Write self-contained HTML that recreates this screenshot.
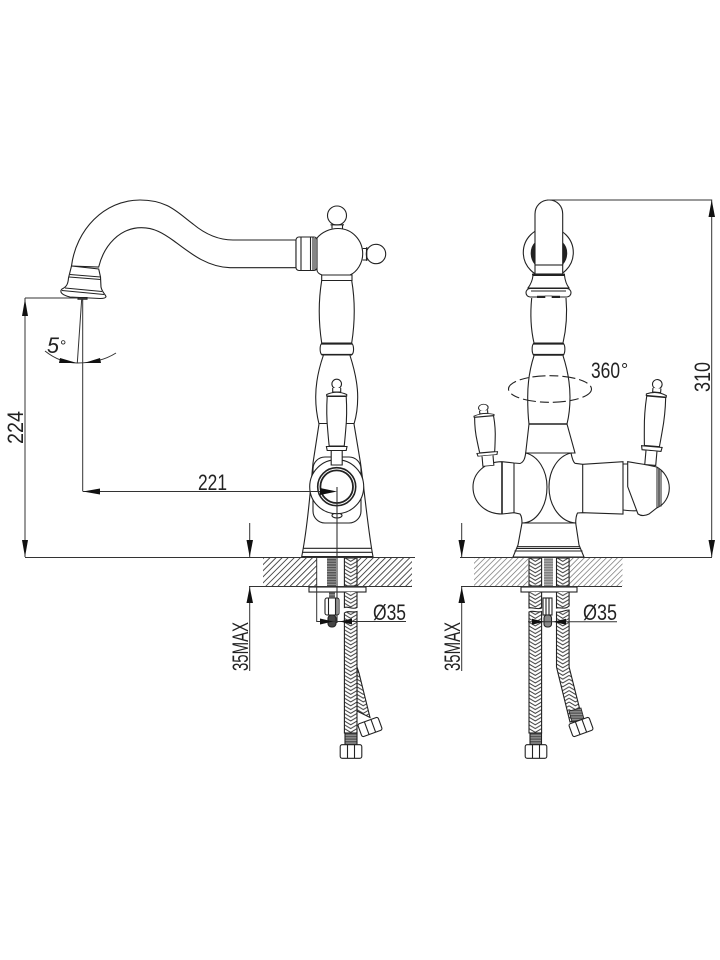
<!DOCTYPE html>
<html><head><meta charset="utf-8"><style>html,body{margin:0;padding:0;background:#fff}svg{display:block}text{font-family:"Liberation Sans",sans-serif;fill:#222}</style></head><body>
<svg width="720" height="960" viewBox="0 0 720 960" xmlns="http://www.w3.org/2000/svg">
<defs>
<pattern id="h" width="4.3" height="4.3" patternUnits="userSpaceOnUse" patternTransform="rotate(45)"><rect width="4.3" height="4.3" fill="#fff"/><line x1="0" y1="0" x2="0" y2="4.3" stroke="#333" stroke-width="1.7"/></pattern>
<pattern id="h2" width="3.9" height="3.9" patternUnits="userSpaceOnUse" patternTransform="rotate(45)"><rect width="3.9" height="3.9" fill="#fff"/><line x1="0" y1="0" x2="0" y2="3.9" stroke="#666" stroke-width="1.3"/></pattern>
<pattern id="b" width="12.6" height="3.8" patternUnits="userSpaceOnUse" patternTransform="translate(344.4 0)"><rect width="12.6" height="3.8" fill="#fff"/><path d="M0-1L6.3 2.800L12.6-1M0 2.800L6.3 6.600L12.6 2.800" fill="none" stroke="#333" stroke-width=".95"/></pattern>
<pattern id="b2" width="12.6" height="3.8" patternUnits="userSpaceOnUse" patternTransform="translate(529 0)"><rect width="12.6" height="3.8" fill="#fff"/><path d="M0-1L6.3 2.800L12.6-1M0 2.800L6.3 6.600L12.6 2.800" fill="none" stroke="#333" stroke-width=".95"/></pattern>
<pattern id="b3" width="12.6" height="3.8" patternUnits="userSpaceOnUse" patternTransform="translate(556.5 0)"><rect width="12.6" height="3.8" fill="#fff"/><path d="M0-1L6.3 2.800L12.6-1M0 2.800L6.3 6.600L12.6 2.800" fill="none" stroke="#333" stroke-width=".95"/></pattern>
<pattern id="r" width="4" height="2.6" patternUnits="userSpaceOnUse"><rect width="4" height="2.6" fill="#555"/><rect y="1.5" width="4" height="1.1" fill="#999"/></pattern>
<g id="hd" fill="#fff" stroke="#222" stroke-width="1.1">
<circle cx="0" cy="0" r="4.8"/>
<path d="M-4 4L-4 8L4 8L4 4"/>
<path d="M-10 10.500Q0 6 10 10.500L10 12L-10 12Z"/>
<path d="M-9.500 12.500C-10.300 25-10 36-9 46C-8.500 52-8 58-7.500 62L7.500 62C8 58 8.500 52 9 46C10 36 10.300 25 9.500 12.500Z"/>
<path d="M-10.300 62.500L10.300 62.500L9.500 66.500L-9.500 66.500Z"/>
<path d="M-5.500 67L-5.500 81L5.500 81L5.500 67"/>
</g>
<g id="nut" fill="#fff" stroke="#222" stroke-width="1.1">
<rect x="-10.800" y="-6.800" width="21.600" height="13.600" rx="2"/>
<path d="M-3.500-6.800V6.800M3.500-6.800V6.800"/>
</g>
</defs>
<rect width="720" height="960" fill="#fff"/>

<!-- counters -->
<rect x="263" y="558" width="149" height="28" fill="url(#h)"/>
<rect x="474" y="558" width="148.500" height="28" fill="url(#h2)"/>
<rect x="316.500" y="558" width="41" height="28" fill="#fff"/>
<rect x="528" y="558" width="41.500" height="28" fill="#fff"/>

<g fill="none" stroke="#222" stroke-width="1.100">
<!-- LEFT VIEW: spout -->
<path fill="#fff" d="M71.500 266C76 230 104 200 140 200C168 200 178 213 193 224C205 234 218 240 233 240L296 240V267.700L230 267.700C207 267 190 253 174 241C163 233 154 227.700 141.500 227.700C120 227.700 104 245 98.700 267Z"/>
<path fill="#fff" d="M71.500 266L98.700 269L100.500 277L101 287C102 292 105 294 106 296.500C106 298 104 298.500 100 298.500L70 297C62 295 59 292 62 289C66 287 68 285 68.500 278Z"/>
<path d="M70 274.500L100.500 277M69 277L100.700 279.500M65 288L102 291.500M62 290.500L104 294.500"/>
<path d="M78 297.500H87V299.200H78Z" fill="#444"/>
<!-- collar -->
<rect x="296" y="237" width="21" height="33.500" rx="3" fill="#fff"/>
<path d="M301 237V270.500M310.500 237V270.500M313 237V270.500M315 238V270"/>
<!-- dome + knobs -->
<path fill="#fff" d="M317 238C322 232 330 228.500 338 228.500C352 228.500 362.700 240 362.700 254C362.700 263 357 272 350 275H322C319 274 317 272 317 270Z"/>
<circle cx="337" cy="215.500" r="9.500" fill="#fff"/>
<path d="M332 224.500V228.500M342.500 224.500V228.500M330.500 224.800H344" />
<circle cx="376" cy="254" r="9.700" fill="#fff"/>
<path d="M362.700 248.500H366.500V260H362.700M366.800 247V261"/>
<!-- column -->
<path fill="#fff" d="M321.700 275H352V280.500H321.700Z"/>
<path fill="#fff" d="M321.700 280.500C318.500 300 318.500 322 321.700 343H351.700C355 322 355 300 351.700 280.500Z"/>
<path fill="#fff" d="M322 343H351.500C354 345 354.500 353 351.500 355H322C319.500 353 319.500 345 322 343Z"/>
<path d="M321.500 344H352M321.500 354.500H352" stroke-width="1.300"/>
<path d="M323.300 355.500C319 368 315.700 382 315.700 397C315.700 407 317 416 319 424L313 463C310 495 307 530 301.700 556.700H373C368 530 365 495 360.500 463L354 424C356.500 416 357.700 407 357.700 397C357.700 382 354 368 350 355.500"/>
<path d="M319 423.500H328M346 423.500H354"/>
<path d="M303.500 548.300H371M302.500 552.300H372M301.500 556.700H373.500" />
<rect x="313" y="457" width="48" height="66" rx="12" fill="#fff"/>
<ellipse cx="337" cy="515.500" rx="5" ry="2.400"/>
<circle cx="336.700" cy="486.700" r="27" fill="#fff"/>
<circle cx="336.700" cy="486.700" r="19" stroke-width="1.600"/>
<circle cx="336.700" cy="486.700" r="16.300" stroke-width="1.800"/>
</g>
<use href="#hd" transform="translate(336.700 384)"/>

<!-- LEFT lower -->
<g fill="none" stroke="#222" stroke-width="1.100">
<rect x="327" y="558" width="9" height="28" fill="url(#r)" stroke="none"/>
<rect x="329" y="592" width="6" height="6" fill="url(#r)" stroke="none"/>
<rect x="344.400" y="558" width="12.600" height="28" fill="url(#b)"/>
<rect x="309" y="587" width="57" height="5" fill="#fff"/>
<path d="M344.400 592V607.500C348 606 353 610 357 607.500V592" fill="url(#b)"/>
<path d="M357 667L359 673L370 717.500L357 711Z" fill="url(#b)"/>
<path d="M344.400 613C348 610 353 613 357 611.500V733H344.400Z" fill="url(#b)"/>
<rect x="345" y="733" width="12" height="12" fill="url(#r)" stroke="#222"/>
<rect x="325" y="598" width="14" height="17" rx="2" fill="#fff"/><path d="M328.500 598V615M335.500 598V615"/>
<rect x="328" y="615" width="8" height="12" rx="3.500" fill="#444"/>
</g>
<use href="#nut" transform="translate(351 751.500)"/>
<use href="#nut" transform="translate(370 727) rotate(-20)"/>

<!-- RIGHT VIEW -->
<g fill="none" stroke="#222" stroke-width="1.100">
<circle cx="548.300" cy="252.500" r="25" fill="#fff"/>
<path d="M535 243C530 248 530 258 535 264L535 243ZM562.700 243C568 248 568 258 562.700 264Z" fill="#222"/>
<path fill="#fff" d="M535 265V214C535 206 541 200 549 200C557 200 562.700 206 562.700 214V265"/>
<rect x="535" y="265" width="27.700" height="9" fill="#fff"/>
<path fill="#fff" d="M533 275.500H564.500C565 280 566 284 569 288L528 288C531 284 532.500 280 533 275.500Z"/>
<path d="M532 274.500H565" stroke-width="1.800"/>
<rect x="526" y="288.500" width="45" height="8.500" rx="4.200" fill="#fff"/>
<path d="M531 291H566"/>
<path d="M537 297H560" stroke="#222" stroke-width="2.500"/><rect x="545" y="296" width="7" height="2.800" fill="#fff" stroke="#222" stroke-width=".6"/>
<path fill="#fff" d="M531.700 298C530 315 531 330 534 343H563C566 330 567.500 315 566 298"/>
<path fill="#fff" d="M534 343H563C565.500 345 565.500 353 563 355.500H534C531.500 353 531.500 345 534 343Z"/>
<path d="M533 344H564M533 354.500H564" stroke-width="1.300"/>
<path fill="#fff" d="M534 355.700C530 368 527.700 382 527.700 397C527.700 407 528 416 529 424L525.700 453L575 453L567 424C569 416 570 407 570 397C570 382 567 368 563 355.700"/>
<path d="M529 424H567" stroke-width="1.500"/>
<ellipse cx="550" cy="389" rx="41.500" ry="13.300" stroke-dasharray="13 4 9 4"/>

<!-- lower body -->
<path fill="#fff" d="M522 523L518 545L513 557H584L579 545L575.700 523Z"/>
<path d="M517 546.700H580M516 548.500H581M514.500 551H582.500" />
<!-- left arm -->
<path fill="#fff" d="M502 461.700C485 461.700 473 473 473 487C473 502 485 514 502 514L514 512.700L520 514C521.500 516 522 519 522 523C536 523 547 507 547 487C547 470 538 456 525.700 453C525 458 524 462 520 463.500L514 463Z"/>
<path d="M502 461.700V514" stroke-width="1.600"/><path d="M514 463V512.700"/>
<!-- right arm -->
<path fill="#fff" d="M575.700 523C561 522 549 507 549 487C549 470 558 456 571 453C572 458 573 462 575 463.300L582.700 464.300L623 461.700V514L582.700 512.700L577.500 513C576 516 575.700 519 575.700 523Z"/>
<path d="M582.700 464.300V512.700"/>
<path d="M623 464H627.700M623 510C632 511 638 511 640 510"/>
<path fill="#fff" d="M627.700 461.700L645 464.500L656.700 467C664 471 669.300 479 669.300 488C669.300 497 664 505 656.700 508L649 514C645 516 641 516 638 514L627.700 486.700Z"/>
<path d="M657 467.500V508M661 469.500V506.500" stroke-width="1"/><path d="M659 468V507" stroke="#444" stroke-width="1.600"/>

<!-- right lower -->
<rect x="544" y="558" width="9" height="28" fill="url(#r)" stroke="none" opacity=".75"/>
<rect x="529" y="558" width="12.600" height="28" fill="url(#b2)"/>
<rect x="556.500" y="558" width="12.600" height="28" fill="url(#b3)"/>
<rect x="521" y="587" width="56" height="5" fill="#fff"/>
<path d="M529 592V608C533 607 538 610 541.600 608V592" fill="url(#b2)"/>
<path d="M556.500 592V608C560 607 565 610 569.100 606V592" fill="url(#b3)"/>
<path d="M529 612C533 610 538 613 541.600 611.500V733H529Z" fill="url(#b2)"/>
<path d="M556.500 612C560 613 565 610 569.100 610V667L582 718L570 722L556.500 667Z" fill="url(#b3)"/>
<rect x="530" y="733" width="11.500" height="12" fill="url(#r)" stroke="#222"/>
<path d="M569 711L581 708L584 719L572 722Z" fill="url(#r)" stroke="#222" stroke-width=".8"/>
<rect x="543" y="598" width="9" height="17" fill="#fff"/><path d="M546 598V615M549 598V615"/>
<rect x="544" y="615" width="7.500" height="12" rx="3" fill="#888"/>
</g>
<use href="#hd" transform="translate(483.300 407.700) rotate(-5) scale(1 .72)"/>
<use href="#hd" transform="translate(657.300 384.300) rotate(5)"/>
<use href="#nut" transform="translate(536 751.500)"/>
<use href="#nut" transform="translate(581 727) rotate(-20)"/>

<!-- DIMENSIONS -->
<g fill="none" stroke="#333" stroke-width="1">
<path d="M25 557.500H415M460 557.500H712"/>
<path d="M249 586.500H412M461 586.500H622"/>
<path d="M25 298V557M25 298H78M82.700 299V491.500M81.700 299L77.300 363"/>
<path d="M45 351C55 359 66 363 77.300 363C92 363 105 360 116 353"/>
<path d="M83 491.500H320"/>
<path d="M337 487V623" stroke-width="1.100"/>
<path d="M249.700 523V557M249.700 587V671"/>
<path d="M461.700 523V557M461.700 587V671"/>
<path d="M316.700 558V621.500H406M528 621.700H617"/>
<path d="M547 200H711.700V557"/>
</g>
<g fill="#111" stroke="none">
<path d="M25 299L22 316H28Z"/><path d="M25 557L22 540H28Z"/>
<path d="M711.700 200L708.500 217H715Z"/><path d="M711.700 557L708.500 540H715Z"/>
<path d="M83 491.500L100 488.500V494.500Z"/>
<path d="M337 491.500L320 488V495Z"/>
<path d="M249.700 557L246.500 540H253Z"/><path d="M249.700 587L246.500 603H253Z"/>
<path d="M461.700 557L458.500 540H465Z"/><path d="M461.700 587L458.500 603H465Z"/>
<path d="M77 363L60 358L59 363Z"/><path d="M84 363L100 358L101 363Z"/>
<path d="M333 621.500L320 618.500V624.500Z"/><path d="M340 621.500L352 618.500V624.500Z"/>
<path d="M544 621.700L532 618.700V624.700Z"/><path d="M553 621.700L566 618.700V624.700Z"/>
</g>

<!-- TEXT -->
<text x="198" y="490" font-size="22" textLength="29" lengthAdjust="spacingAndGlyphs">221</text>
<text transform="translate(23 444) rotate(-90)" font-size="22" textLength="33" lengthAdjust="spacingAndGlyphs">224</text>
<text transform="translate(710 392) rotate(-90)" font-size="22" textLength="30" lengthAdjust="spacingAndGlyphs">310</text>
<text x="591" y="378" font-size="22" textLength="29" lengthAdjust="spacingAndGlyphs">360</text>
<text x="621" y="376" font-size="18">°</text>
<text x="47" y="353" font-size="22" font-style="italic" textLength="12" lengthAdjust="spacingAndGlyphs">5</text>
<text x="60" y="351" font-size="16">°</text>
<text x="373" y="620" font-size="22" textLength="33" lengthAdjust="spacingAndGlyphs">Ø35</text>
<text x="583" y="620" font-size="22" textLength="34" lengthAdjust="spacingAndGlyphs">Ø35</text>
<text transform="translate(248 671) rotate(-90)" font-size="22" textLength="49" lengthAdjust="spacingAndGlyphs">35MAX</text>
<text transform="translate(460 671) rotate(-90)" font-size="22" textLength="49" lengthAdjust="spacingAndGlyphs">35MAX</text>
</svg>
</body></html>
